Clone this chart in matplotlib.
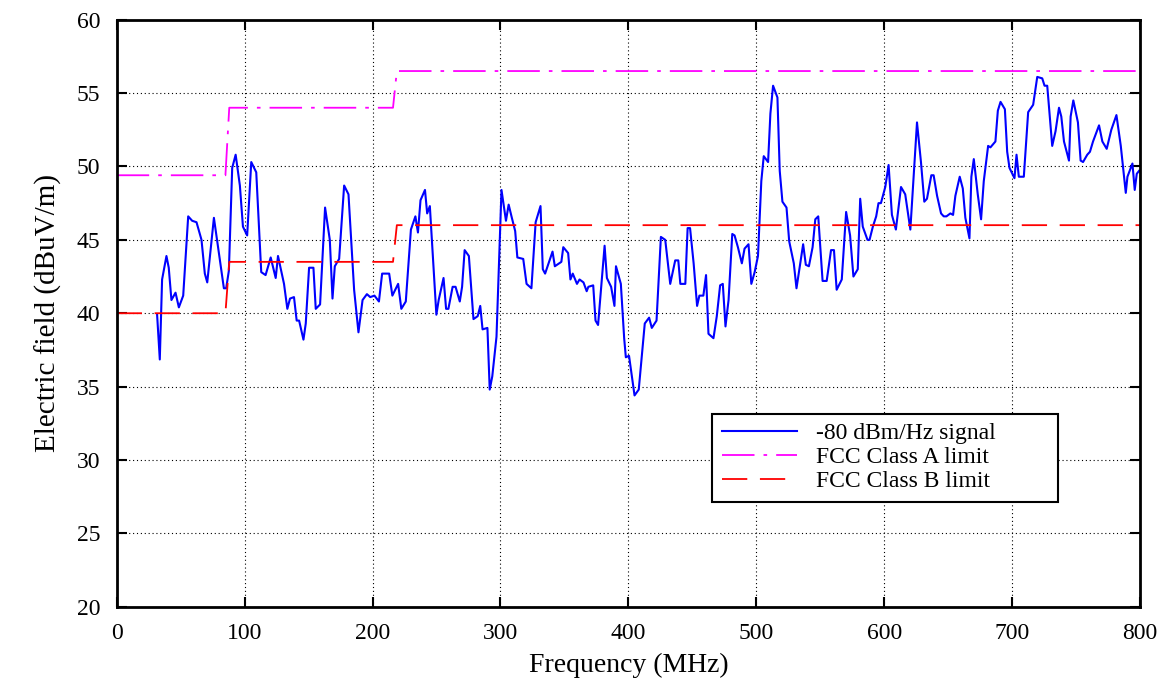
import matplotlib
matplotlib.use('Agg')
import matplotlib.pyplot as plt

# signal readings (MHz, dBuV/m)
freq = [31.6, 33.7, 35.5, 38.9, 40.7, 42.8, 46.0, 48.6, 52.0, 55.9, 59.0, 62.4, 66.3, 68.9, 70.8,
        76.0, 78.6, 83.8, 85.6, 87.7, 90.3, 93.0, 96.3, 98.7, 102.0, 105.2, 109.1, 113.0, 116.4,
        120.4, 124.3, 126.1, 130.8, 133.4, 135.5, 138.6, 140.7, 142.6, 146.0, 147.8, 150.4, 153.8,
        155.6, 159.0, 162.9, 166.6, 168.7, 170.5, 173.9, 177.8, 181.2, 185.6, 189.0, 192.2, 195.6,
        198.2, 201.5, 205.0, 207.5, 213.0, 215.5, 220.0, 222.5, 226.0, 230.0, 233.5, 235.5, 237.5,
        241.0, 242.7, 244.8, 249.9, 251.7, 255.5, 257.5, 259.3, 262.6, 264.9, 268.2, 270.0, 272.0,
        275.3, 278.9, 282.2, 284.2, 286.0, 289.8, 291.6, 293.6, 296.9, 300.8, 304.3, 306.4, 308.9,
        311.5, 313.2, 317.8, 320.4, 324.2, 327.5, 331.3, 333.1, 334.9, 340.7, 342.5, 345.8, 347.6,
        349.1, 352.9, 354.7, 356.5, 359.8, 361.8, 364.9, 367.4, 368.7, 372.5, 374.3, 376.3, 381.4,
        383.2, 386.5, 389.1, 390.3, 394.1, 396.7, 398.0, 400.5, 404.8, 408.1, 412.8, 416.2, 418.3,
        422.0, 425.4, 428.8, 432.7, 436.6, 439.0, 440.6, 444.5, 446.3, 448.2, 451.0, 453.7, 455.5,
        458.6, 460.7, 462.6, 466.5, 469.1, 471.7, 473.8, 475.9, 478.3, 481.2, 483.0, 485.6, 488.7,
        490.8, 493.9, 496.1, 498.7, 501.3, 503.9, 505.8, 509.2, 511.0, 513.1, 516.5, 518.3, 520.4,
        523.6, 525.7, 529.3, 531.4, 534.0, 536.6, 538.7, 541.1, 544.0, 546.1, 548.4, 551.8, 555.0,
        558.4, 560.7, 562.8, 566.8, 570.2, 573.3, 575.9, 579.3, 581.2, 583.2, 586.9, 588.5, 591.1,
        593.7, 595.5, 597.4, 600.8, 603.4, 606.0, 609.1, 613.1, 616.4, 620.4, 625.6, 628.7, 631.3,
        633.4, 636.8, 638.6, 641.3, 644.4, 646.5, 648.6, 651.7, 653.8, 655.6, 659.0, 661.4, 663.4,
        666.6, 668.1, 670.0, 673.1, 675.7, 677.8, 681.2, 683.0, 686.9, 688.8, 690.9, 694.3, 696.1,
        697.9, 701.8, 703.4, 705.2, 709.1, 712.5, 716.4, 719.6, 723.5, 725.3, 727.4, 731.3, 733.9,
        736.6, 738.4, 740.5, 744.4, 745.7, 747.8, 751.4, 753.5, 755.4, 758.7, 760.8, 763.2, 767.9,
        770.5, 773.9, 777.5, 781.5, 784.9, 788.8, 790.1, 794.0, 795.8, 797.4, 799.2]
field = [39.9, 36.85, 42.3, 43.9, 43.1, 40.9, 41.4, 40.4, 41.2, 46.6, 46.3, 46.2, 45.0, 42.7, 42.1,
         46.5, 44.9, 41.7, 41.7, 42.9, 49.9, 50.8, 48.7, 45.9, 45.3, 50.3, 49.6, 42.8, 42.6,
         43.8, 42.4, 43.9, 42.0, 40.3, 41.0, 41.1, 39.5, 39.5, 38.2, 39.3, 43.1, 43.1,
         40.3, 40.6, 47.2, 45.0, 41.0, 43.2, 43.7, 48.7, 48.1, 41.6, 38.7, 40.9, 41.3,
         41.1, 41.2, 40.8, 42.7, 42.7, 41.2, 42.0, 40.3, 40.8, 45.7, 46.6, 45.5, 47.7,
         48.4, 46.8, 47.3, 39.9, 40.9, 42.4, 40.3, 40.3, 41.8, 41.8, 40.8, 41.8, 44.3,
         43.9, 39.6, 39.8, 40.5, 38.9, 39.0, 34.8, 35.7, 38.4, 48.4, 46.3, 47.4, 46.5,
         45.6, 43.8, 43.7, 42.0, 41.7, 46.2, 47.3, 43.0, 42.7, 44.2, 43.2, 43.4, 43.5,
         44.5, 44.1, 42.3, 42.7, 42.0, 42.3, 42.1, 41.5, 41.8, 41.9, 39.5, 39.2, 44.6,
         42.4, 41.8, 40.5, 43.2, 42.0, 38.3, 37.0, 37.1, 34.4, 34.8, 39.3, 39.7, 39.0,
         39.5, 45.2, 45.0, 42.0, 43.6, 43.6, 42.0, 42.0, 45.8, 45.8, 43.4, 40.5, 41.2,
         41.2, 42.6, 38.6, 38.3, 39.8, 41.9, 42.0, 39.1, 40.9, 45.4, 45.3, 44.5, 43.4,
         44.4, 44.7, 42.0, 42.8, 43.9, 49.0, 50.7, 50.3, 53.6, 55.5, 54.7, 49.7, 47.6,
         47.2, 44.9, 43.4, 41.7, 43.2, 44.7, 43.3, 43.2, 44.5, 46.4, 46.6, 42.2, 42.2,
         44.3, 44.3, 41.6, 42.3, 46.9, 45.3, 42.5, 43.0, 47.8, 45.9, 45.0, 45.0, 45.9,
         46.6, 47.5, 47.5, 48.6, 50.1, 46.7, 45.7, 48.6, 48.1, 45.7, 53.0, 50.3, 47.6,
         47.8, 49.4, 49.4, 48.0, 46.8, 46.6, 46.6, 46.8, 46.7, 48.0, 49.3, 48.5, 46.5,
         45.1, 49.3, 50.5, 48.1, 46.4, 49.0, 51.4, 51.3, 51.7, 53.8, 54.4, 53.9, 51.0,
         49.9, 49.2, 50.8, 49.3, 49.3, 53.7, 54.2, 56.1, 56.0, 55.5, 55.5, 51.4, 52.4,
         54.0, 53.4, 51.7, 50.4, 53.4, 54.5, 53.0, 50.4, 50.3, 50.8, 51.0, 51.7, 52.8,
         51.7, 51.2, 52.5, 53.5, 51.4, 48.2, 49.3, 50.2, 48.4, 49.5, 49.7]

# limit lines
limit_freq = [0, 85, 88, 216, 219, 800]
class_a = [49.4, 49.4, 54.0, 54.0, 56.5, 56.5]
class_b = [40.0, 40.0, 43.5, 43.5, 46.0, 46.0]

plt.rcParams['font.family'] = ['Liberation Serif', 'DejaVu Serif']

fig = plt.figure(figsize=(11.61, 6.78), dpi=100)
ax = fig.add_axes([0.1005, 0.105, 0.8815, 0.866])

ax.plot(freq, field, color='#0000ff', lw=1.5, label='-80 dBm/Hz signal')
ax.plot(limit_freq, class_a, color='#ff00ff', lw=1.3, dashes=(18, 5, 2, 5), label='FCC Class A limit')
ax.plot(limit_freq, class_b, color='#ff0000', lw=1.3, dashes=(14, 7), label='FCC Class B limit')

ax.set_xlim(0, 800)
ax.set_ylim(20, 60)
ax.set_xticks(range(0, 801, 100))
ax.set_yticks(range(20, 61, 5))
ax.grid(True, color='black', linestyle=(0, (1, 2.5)), linewidth=0.8)
ax.tick_params(direction='in', top=True, right=True, length=7, width=1.5, labelsize=17, pad=12)
for s in ax.spines.values():
    s.set_linewidth(2)

ax.set_xlabel('Frequency (MHz)', fontsize=20, labelpad=6)
ax.set_ylabel('Electric field (dBuV/m)', fontsize=21, labelpad=10)

leg = ax.legend(loc='lower left', bbox_to_anchor=(0.582, 0.179, 0.338, 0.152), mode='expand',
                fontsize=17, fancybox=False, framealpha=1, edgecolor='black',
                handlelength=3.2, borderaxespad=0, labelspacing=0.1)
leg.get_frame().set_linewidth(1.5)

fig.savefig('out.png', dpi=100)
